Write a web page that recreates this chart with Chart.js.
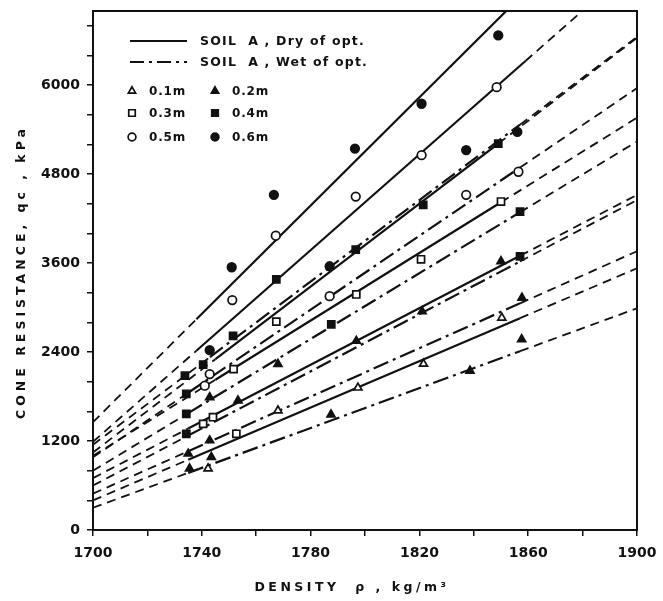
<!DOCTYPE html>
<html>
<head>
<meta charset="utf-8">
<script src="https://cdn.jsdelivr.net/npm/chart.js@4.4.1/dist/chart.umd.min.js"></script>
<style>
  html, body { margin: 0; padding: 0; background: #fff; }
  #wrap { width: 663px; height: 601px; }
</style>
</head>
<body>
<div id="wrap"><canvas id="c" width="663" height="601"></canvas></div>
<script>
// Axis labels
const densityLabels = [1700, 1740, 1780, 1820, 1860, 1900];
const resistanceLabels = [0, 1200, 2400, 3600, 4800, 6000];

// Fitted lines: cone resistance at 1700 kg/m3 (kPa), gradient (kPa per kg/m3),
// and the density span covered by the tests (drawn full; extrapolation dashed)
const lineDepth = ['0.6m', '0.5m', '0.4m', '0.6m', '0.5m', '0.3m', '0.4m', '0.2m', '0.3m', '0.2m', '0.1m', '0.1m'];
const lineSoil  = ['dry', 'dry', 'dry', 'wet', 'wet', 'dry', 'wet', 'dry', 'wet', 'wet', 'dry', 'wet'];
const lineAt1700 = [1455, 1190, 1046, 1150, 980, 1000, 800, 700, 600, 490, 400, 300];
const lineSlope  = [36.5, 32.3, 27.96, 27.5, 24.9, 22.8, 22.2, 19.1, 19.25, 16.35, 15.65, 13.45];
const lineFrom   = [1738, 1738, 1745, 1743, 1735, 1745, 1735, 1735, 1735, 1735, 1735, 1735];
const lineTo     = [1860, 1859, 1849, 1857, 1857, 1850, 1857, 1857, 1857, 1857, 1857, 1857];

// Measured cone resistance [density, kPa]
const d06Dry = [[1751, 3544], [1766.5, 4520], [1796.3, 5145], [1820.8, 5749], [1849, 6670]];
const d06Wet = [[1742.9, 2425], [1787, 3557], [1837.2, 5124], [1856, 5369]];
const d05Dry = [[1751.2, 3101], [1767.2, 3969], [1796.6, 4497], [1820.8, 5056], [1848.4, 5973]];
const d05Wet = [[1741.1, 1946], [1742.9, 2103], [1787, 3154], [1837.2, 4520], [1856.4, 4832]];
const d04Dry = [[1751.5, 2617], [1767.4, 3379], [1796.6, 3781], [1821.4, 4385], [1849, 5212]];
const d04Wet = [[1733.8, 2081], [1740.5, 2230], [1734.3, 1835], [1734.3, 1566], [1734.3, 1298], [1787.6, 2774], [1857, 4295], [1857, 3691]];
const d03Dry = [[1751.7, 2170], [1767.4, 2810], [1796.8, 3177], [1820.6, 3651], [1850, 4430]];
const d03Wet = [[1740.5, 1432], [1744.1, 1521], [1752.7, 1298]];
const d02Dry = [[1753.3, 1745], [1768, 2237], [1796.8, 2550], [1821, 2950], [1850, 3624]];
const d02Wet = [[1742.9, 1790], [1742.9, 1208], [1735, 1029], [1743.5, 984], [1735.5, 828], [1787.5, 1557], [1838.6, 2148], [1857.7, 3132], [1857.6, 2573]];
const d01Dry = [[1742.3, 828], [1768, 1611], [1797.4, 1919], [1821.5, 2240], [1850.3, 2863]];

const markerSets = [
  { data: d01Dry, style: 'triangle', filled: false },
  { data: d02Dry, style: 'triangle', filled: true },  { data: d02Wet, style: 'triangle', filled: true },
  { data: d03Dry, style: 'rect', filled: false },     { data: d03Wet, style: 'rect', filled: false },
  { data: d04Dry, style: 'rect', filled: true },      { data: d04Wet, style: 'rect', filled: true },
  { data: d05Dry, style: 'circle', filled: false },   { data: d05Wet, style: 'circle', filled: false },
  { data: d06Dry, style: 'circle', filled: true },    { data: d06Wet, style: 'circle', filled: true }
];
const markerRadius = { triangle: 4.6, rect: 5, circle: 4.3 };

const INK = '#111';
const DASH = [9, 6];
const DASH_DOT = [16, 5, 3, 5];
const FONT = '"DejaVu Sans", "Liberation Sans", sans-serif';

function lineY(i, x) { return lineAt1700[i] + lineSlope[i] * (x - 1700); }

const datasets = [];
lineAt1700.forEach((_, i) => {
  const seg = (x0, x1, dash, w) => ({
    type: 'line',
    data: [{ x: x0, y: lineY(i, x0) }, { x: x1, y: lineY(i, x1) }],
    borderColor: INK, borderWidth: w, borderDash: dash,
    pointRadius: 0, fill: false, tension: 0, clip: 1, order: 2
  });
  datasets.push(seg(1700, lineFrom[i], DASH, 1.8));
  datasets.push(seg(lineFrom[i], lineTo[i], lineSoil[i] === 'dry' ? [] : DASH_DOT, 2.2));
  datasets.push(seg(lineTo[i], 1900, DASH, 1.8));
});
markerSets.forEach(m => {
  datasets.push({
    type: 'scatter',
    data: m.data.map(p => ({ x: p[0], y: p[1] })),
    pointStyle: m.style,
    pointRadius: markerRadius[m.style],
    backgroundColor: m.filled ? INK : '#fff',
    borderColor: INK, borderWidth: 1.7, order: 1
  });
});

// Frame, axis titles and key
const decorations = {
  id: 'decorations',
  afterDraw(chart) {
    const { ctx, chartArea: a } = chart;
    ctx.save();
    ctx.strokeStyle = INK;
    ctx.lineWidth = 2;
    ctx.strokeRect(a.left, a.top, a.right - a.left, a.bottom - a.top);

    ctx.fillStyle = INK;
    ctx.font = 'bold 12.5px ' + FONT;
    ctx.letterSpacing = '3.5px';
    ctx.textAlign = 'center';
    ctx.textBaseline = 'middle';
    ctx.fillText('DENSITY  \u03C1 , kg/m\u00B3', 352, 588);
    ctx.letterSpacing = '4px';
    ctx.save();
    ctx.translate(22, 272);
    ctx.rotate(-Math.PI / 2);
    ctx.fillText('CONE RESISTANCE, qc , kPa', 0, 0);
    ctx.restore();

    // key
    ctx.letterSpacing = '1.2px';
    ctx.textAlign = 'left';
    ctx.font = 'bold 12.5px ' + FONT;
    ctx.lineWidth = 2.2;
    ctx.setLineDash([]);
    ctx.beginPath(); ctx.moveTo(130, 41); ctx.lineTo(187, 41); ctx.stroke();
    ctx.setLineDash([14, 5, 3, 5]);
    ctx.beginPath(); ctx.moveTo(130, 62); ctx.lineTo(187, 62); ctx.stroke();
    ctx.setLineDash([]);
    ctx.fillText('SOIL  A , Dry of opt.', 200, 42);
    ctx.fillText('SOIL  A , Wet of opt.', 200, 63);

    ctx.letterSpacing = '0.8px';
    ctx.font = 'bold 12px ' + FONT;
    const keyRows = [91, 113, 137];
    const keyStyles = ['triangle', 'rect', 'circle'];
    const keyText = ['0.1m', '0.2m', '0.3m', '0.4m', '0.5m', '0.6m'];
    keyRows.forEach((y, r) => {
      [0, 1].forEach(c => {
        const x = c === 0 ? 132 : 215;
        ctx.fillStyle = c === 0 ? '#fff' : INK;
        ctx.strokeStyle = INK;
        ctx.lineWidth = 1.7;
        Chart.helpers.drawPoint(ctx, {
          pointStyle: keyStyles[r], radius: markerRadius[keyStyles[r]] - 0.4,
          borderWidth: 1.7, rotation: 0
        }, x, y);
        ctx.fillStyle = INK;
        ctx.fillText(keyText[r * 2 + c], x + 17, y + 1);
      });
    });
    ctx.restore();
  }
};

new Chart(document.getElementById('c'), {
  type: 'scatter',
  data: { datasets },
  options: {
    responsive: false,
    animation: false,
    layout: { padding: { top: 11, right: 26, left: 0, bottom: 0 } },
    plugins: { legend: { display: false }, tooltip: { enabled: false } },
    scales: {
      x: {
        type: 'linear', min: 1700, max: 1900,
        afterFit: s => { s.height = 71; s.paddingLeft = 0; s.paddingRight = 0; },
        border: { display: true, color: INK, width: 2 },
        grid: { display: true, drawOnChartArea: false, drawTicks: true, tickLength: 6, color: INK, lineWidth: 1.5 },
        ticks: {
          stepSize: 20, maxRotation: 0, autoSkip: false, padding: 9, color: INK,
          font: { family: FONT, size: 14, weight: 'bold' },
          callback: v => densityLabels.includes(v) ? String(v) : ''
        }
      },
      y: {
        type: 'linear', min: 0, max: 7000,
        afterFit: s => { s.width = 93; s.paddingTop = 0; s.paddingBottom = 0; },
        border: { display: true, color: INK, width: 2 },
        grid: { display: true, drawOnChartArea: false, drawTicks: true, tickLength: 6, color: INK, lineWidth: 1.5 },
        ticks: {
          stepSize: 400, includeBounds: false, autoSkip: false, padding: 7, color: INK,
          font: { family: FONT, size: 14, weight: 'bold' },
          callback: v => resistanceLabels.includes(v) ? String(v) : ''
        }
      }
    }
  },
  plugins: [decorations]
});
</script>
</body>
</html>
